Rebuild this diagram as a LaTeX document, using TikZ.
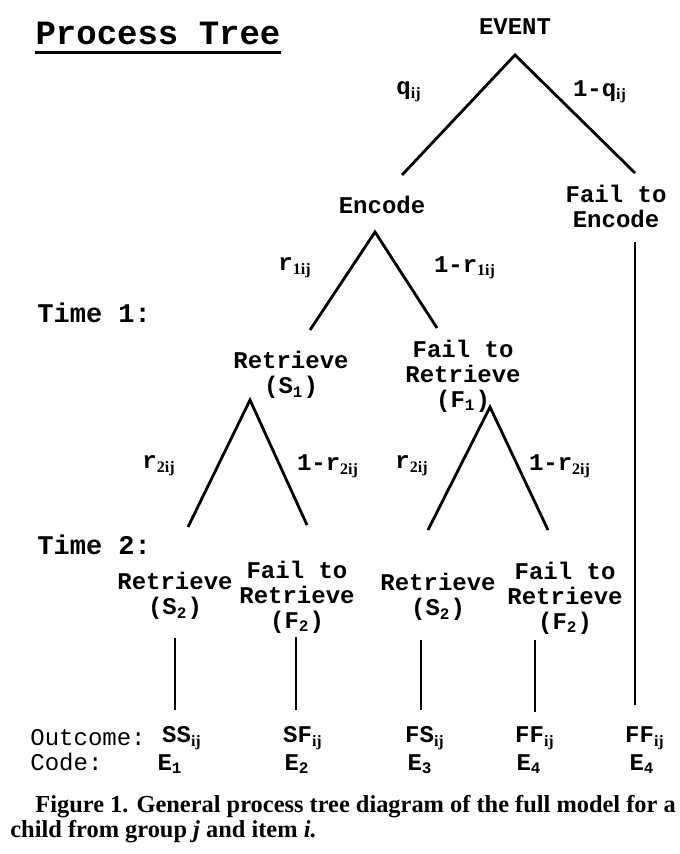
\documentclass[tikz,border=0pt]{standalone}
\usepackage{fontspec}
\setmainfont{Liberation Serif}
\setmonofont{Liberation Mono}
\usetikzlibrary{calc}

% small subscripts as in the scan
\newcommand{\ix}[1]{\textsubscript{\rmfamily\bfseries #1}}

\begin{document}
\begin{tikzpicture}[
  x=0.5pt, y=-0.5pt,
  lbl/.style    = {font=\fontsize{12}{12.5}\selectfont\ttfamily\bfseries,
                   align=center, inner sep=1pt},
  prob/.style   = {lbl},
  timelbl/.style= {font=\fontsize{13.5}{14}\selectfont\ttfamily\bfseries,
                   anchor=west, inner sep=0pt},
  rowlbl/.style = {font=\fontsize{12}{12.5}\selectfont\ttfamily,
                   anchor=west, inner sep=0pt},
  val/.style    = {lbl},
  branch/.style = {line width=1.4pt}
]
\useasboundingbox (0,0) rectangle (679,854);

% ---- heading ----------------------------------------------------------------
\node[font=\fontsize{17}{18}\selectfont\ttfamily\bfseries, inner sep=0pt]
  (title) at (158,33) {Process Tree};
\draw[line width=1.6pt] ([yshift=-4pt]title.south west)
  -- ([yshift=-4pt]title.south east);

\node[timelbl] (time1) at (37,313) {Time 1:};
\node[timelbl] (time2) at (37,545) {Time 2:};

% ---- tree nodes -------------------------------------------------------------
\node[lbl] (event)   at (515,27)  {EVENT};
\node[lbl] (encode)  at (382,205) {Encode};
\node[lbl] (failenc) at (616,206) {Fail to\\Encode};

\node[lbl] (ret1)    at (291,375) {Retrieve\\(S\textsubscript{1})};
\node[lbl] (fail1)   at (463,376) {Fail to\\Retrieve\\(F\textsubscript{1})};

\node[lbl] (ret2a)   at (175,596) {Retrieve\\(S\textsubscript{2})};
\node[lbl] (fail2a)  at (297,597) {Fail to\\Retrieve\\(F\textsubscript{2})};
\node[lbl] (ret2b)   at (438,597) {Retrieve\\(S\textsubscript{2})};
\node[lbl] (fail2b)  at (565,598) {Fail to\\Retrieve\\(F\textsubscript{2})};

% ---- branch probabilities ---------------------------------------------------
\node[prob] (pq)    at (409,92)  {q\ix{ij}};
\node[prob] (pnq)   at (600,92)  {1-q\ix{ij}};
\node[prob] (pr1)   at (295,268) {r\ix{1ij}};
\node[prob] (pnr1)  at (465,268) {1-r\ix{1ij}};
\node[prob] (pr2a)  at (159,466) {r\ix{2ij}};
\node[prob] (pnr2a) at (328,466) {1-r\ix{2ij}};
\node[prob] (pr2b)  at (412,466) {r\ix{2ij}};
\node[prob] (pnr2b) at (560,466) {1-r\ix{2ij}};

% ---- branch ends ------------------------------------------------------------
\coordinate (event-v) at (515,55);
\coordinate (event-l) at (402,175);
\coordinate (event-r) at (635,173);
\coordinate (enc-v)   at (375,232);
\coordinate (enc-l)   at (310,330);
\coordinate (enc-r)   at (437,328);
\coordinate (s1-v)    at (250,400);
\coordinate (s1-l)    at (188,527);
\coordinate (s1-r)    at (307,525);
\coordinate (f1-v)    at (490,407);
\coordinate (f1-l)    at (428,530);
\coordinate (f1-r)    at (548,530);

\draw[branch] (event-l) -- (event-v) -- (event-r);
\draw[branch] (enc-l) -- (enc-v) -- (enc-r);
\draw[branch] (s1-l) -- (s1-v) -- (s1-r);
\draw[branch] (f1-l) -- (f1-v) -- (f1-r);

% ---- outcomes ---------------------------------------------------------------
\node[rowlbl] (outlbl)  at (30,738) {Outcome:};
\node[rowlbl] (codelbl) at (30,762) {Code:};

\node[val] (ss)  at (182,738) {SS\ix{ij}};
\node[val] (sf)  at (303,738) {SF\ix{ij}};
\node[val] (fs)  at (425,738) {FS\ix{ij}};
\node[val] (ffa) at (535,738) {FF\ix{ij}};
\node[val] (ffb) at (645,738) {FF\ix{ij}};

\node[val] (e1)  at (170,764) {E\textsubscript{1}};
\node[val] (e2)  at (297,764) {E\textsubscript{2}};
\node[val] (e3)  at (420,764) {E\textsubscript{3}};
\node[val] (e4a) at (529,764) {E\textsubscript{4}};
\node[val] (e4b) at (642,764) {E\textsubscript{4}};

\coordinate (ss-top)  at (175,638);  \coordinate (ss-bot)  at (175,710);
\coordinate (sf-top)  at (296,637);  \coordinate (sf-bot)  at (296,710);
\coordinate (fs-top)  at (421,640);  \coordinate (fs-bot)  at (421,710);
\coordinate (ffa-top) at (535,640);  \coordinate (ffa-bot) at (535,712);
\coordinate (ffb-top) at (635,242);  \coordinate (ffb-bot) at (635,705);

\draw[branch] (ss-top) -- (ss-bot);
\draw[branch] (sf-top) -- (sf-bot);
\draw[branch] (fs-top) -- (fs-bot);
\draw[branch] (ffa-top) -- (ffa-bot);
\draw[branch] (ffb-top) -- (ffb-bot);

% ---- caption ----------------------------------------------------------------
\node[anchor=north west, align=left, inner sep=0pt,
      font=\fontsize{12.2}{12.5}\selectfont\bfseries] (caption) at (10,795)
  {\hspace*{12.5pt}Figure 1. General process tree diagram of the full model for a\\
   child from group \textit{j} and item \textit{i.}};

\end{tikzpicture}
\end{document}
